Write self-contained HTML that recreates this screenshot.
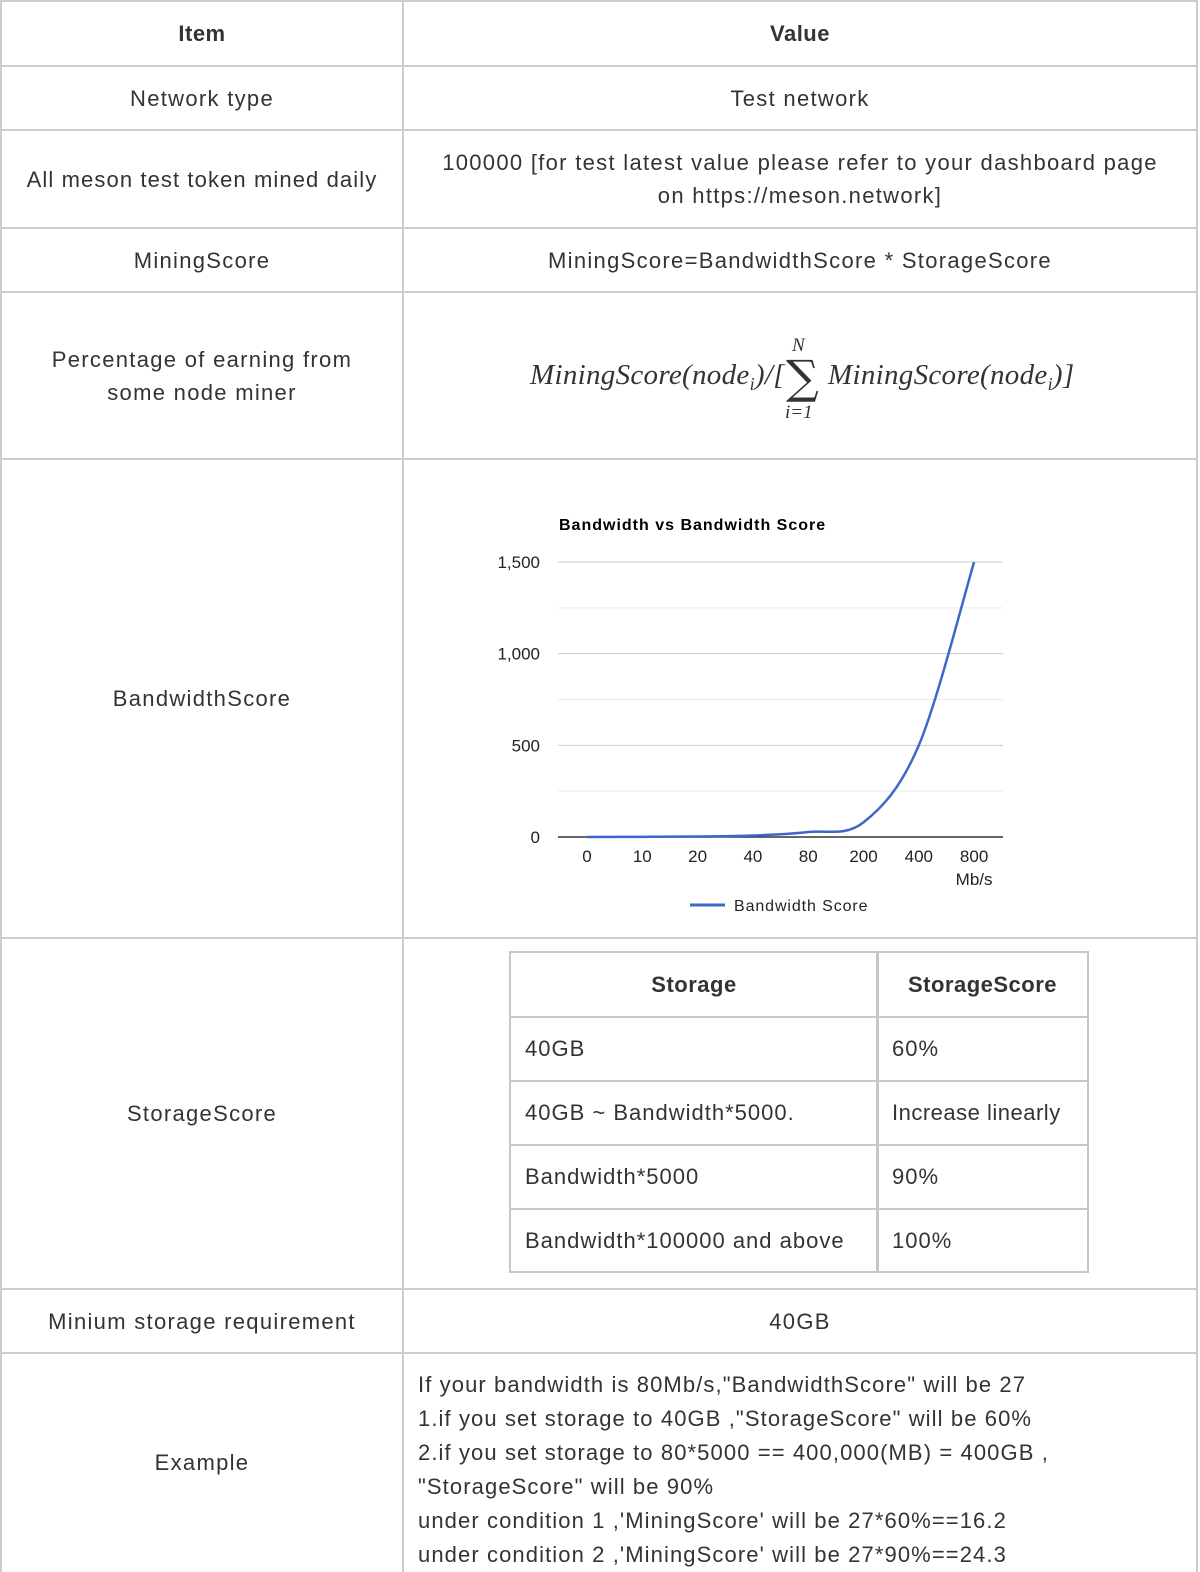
<!DOCTYPE html>
<html><head><meta charset="utf-8">
<style>
html,body{margin:0;padding:0;background:#fff;width:1200px;height:1572px;overflow:hidden;position:relative}
body{font-family:"Liberation Sans",sans-serif;color:#333;font-size:22px;letter-spacing:1.3px}
.c{position:absolute;box-sizing:border-box;border:2px solid #ccc;display:flex;align-items:center;justify-content:center;text-align:center;line-height:33px;padding:0 14px}
.hd{font-weight:bold;letter-spacing:0.5px}
.ic{position:absolute;box-sizing:border-box;border:2px solid #c8c8c8;display:flex;align-items:center;padding:0 14px;white-space:nowrap;letter-spacing:1px}
</style></head><body>
<div>
<div class="c hd" style="left:0;top:0;width:404px;height:67px">Item</div>
<div class="c hd" style="left:402px;top:0;width:796px;height:67px">Value</div>
<div class="c" style="left:0;top:65px;width:404px;height:66px">Network type</div>
<div class="c" style="left:402px;top:65px;width:796px;height:66px">Test network</div>
<div class="c" style="left:0;top:129px;width:404px;height:100px;letter-spacing:1.1px;padding:0 6px">All meson test token mined daily</div>
<div class="c" style="left:402px;top:129px;width:796px;height:100px;padding:0 30px">100000 [for test latest value please refer to your dashboard page on https://meson.network]</div>
<div class="c" style="left:0;top:227px;width:404px;height:66px">MiningScore</div>
<div class="c" style="left:402px;top:227px;width:796px;height:66px">MiningScore=BandwidthScore * StorageScore</div>
<div class="c" style="left:0;top:291px;width:404px;height:169px">Percentage of earning from<br>some node miner</div>
<div class="c" style="left:402px;top:291px;width:796px;height:169px;padding:0">
<svg width="792" height="165" style="display:block;letter-spacing:0">
<text x="126" y="91" font-family="Liberation Serif" font-style="italic" font-size="29" fill="#333" letter-spacing="0.3">MiningScore(node<tspan font-size="18" dy="6">i</tspan><tspan dy="-6">)/[</tspan></text>
<text x="382" y="100" font-family="DejaVu Serif" font-size="46" fill="#333">∑</text>
<text x="388" y="58" font-family="Liberation Serif" font-style="italic" font-size="19" fill="#333">N</text>
<text x="381" y="125" font-family="Liberation Serif" font-style="italic" font-size="19" fill="#333">i=1</text>
<text x="424" y="91" font-family="Liberation Serif" font-style="italic" font-size="29" fill="#333" letter-spacing="0.3">MiningScore(node<tspan font-size="18" dy="6">i</tspan><tspan dy="-6">)]</tspan></text>
</svg></div>
<div class="c" style="left:0;top:458px;width:404px;height:481px">BandwidthScore</div>
<div class="c" style="left:402px;top:458px;width:796px;height:481px;padding:0;display:block">
<svg id="chart" width="792" height="477" style="display:block;position:absolute;left:0;top:0;letter-spacing:0"></svg></div>
<div class="c" style="left:0;top:937px;width:404px;height:353px">StorageScore</div>
<div class="c" style="left:402px;top:937px;width:796px;height:353px"></div>
<div>
<div class="ic" style="left:509px;top:951px;width:370px;height:67px;justify-content:center;font-weight:bold;letter-spacing:0.5px">Storage</div>
<div class="ic" style="left:876px;top:951px;width:213px;height:67px;justify-content:center;font-weight:bold;letter-spacing:0.5px">StorageScore</div>
<div class="ic" style="left:509px;top:1016px;width:370px;height:66px">40GB</div>
<div class="ic" style="left:876px;top:1016px;width:213px;height:66px">60%</div>
<div class="ic" style="left:509px;top:1080px;width:370px;height:66px">40GB ~ Bandwidth*5000.</div>
<div class="ic" style="left:876px;top:1080px;width:213px;height:66px;letter-spacing:0.5px">Increase linearly</div>
<div class="ic" style="left:509px;top:1144px;width:370px;height:66px">Bandwidth*5000</div>
<div class="ic" style="left:876px;top:1144px;width:213px;height:66px">90%</div>
<div class="ic" style="left:509px;top:1208px;width:370px;height:65px">Bandwidth*100000 and above</div>
<div class="ic" style="left:876px;top:1208px;width:213px;height:65px">100%</div>
</div>
<div class="c" style="left:0;top:1288px;width:404px;height:66px">Minium storage requirement</div>
<div class="c" style="left:402px;top:1288px;width:796px;height:66px">40GB</div>
<div class="c" style="left:0;top:1352px;width:404px;height:240px;padding-bottom:20px">Example</div>
<div class="c" style="left:402px;top:1352px;width:796px;height:240px;display:block;text-align:left;padding-top:14px;line-height:34px;letter-spacing:1.1px">If your bandwidth is 80Mb/s,"BandwidthScore" will be 27<br>1.if you set storage to 40GB ,"StorageScore" will be 60%<br>2.if you set storage to 80*5000 == 400,000(MB) = 400GB ,<br>"StorageScore" will be 90%<br>under condition 1 ,'MiningScore' will be 27*60%==16.2<br>under condition 2 ,'MiningScore' will be 27*90%==24.3</div>
</div>
<script>
const categories=["0","10","20","40","80","200","400","800"];
const scores=[0,1,3,8,27,80,500,1500];
const yTicks=[0,500,1000,1500];
const yTickLabels=["0","500","1,000","1,500"];
const svg=document.getElementById('chart');
const NS='http://www.w3.org/2000/svg';
const ox=402, oy=458;
const L=556-ox,R=1001-ox,T=560-oy,B=835-oy;
const x=i=>(585-ox)+i*55.3;
const y=v=>B-(v/1500)*(B-T);
function mk(t,a,txt){const e=document.createElementNS(NS,t);for(const k in a)e.setAttribute(k,a[k]);if(txt!==undefined)e.textContent=txt;svg.appendChild(e);return e;}
let e=mk('text',{x:155,y:70,'font-size':16,'font-weight':'bold',fill:'#000','font-family':'Liberation Sans','letter-spacing':1},'Bandwidth vs Bandwidth Score');


for(let v=0;v<=1500;v+=250){const g=mk('line',{x1:L,x2:R,y1:y(v),y2:y(v),stroke:v%500?'#ebebeb':'#ccc','stroke-width':1});

}
yTicks.forEach((v,i)=>{const t=mk('text',{x:L-18,y:y(v)+6,'text-anchor':'end','font-size':17,fill:'#222','font-family':'Liberation Sans'},yTickLabels[i]);

});
e=mk('line',{x1:L,x2:R,y1:B,y2:B,stroke:'#333','stroke-width':1.5});


categories.forEach((c,i)=>{const t=mk('text',{x:x(i),y:B+25,'text-anchor':'middle','font-size':17,fill:'#222','font-family':'Liberation Sans'},c);

});
e=mk('text',{x:x(7),y:B+48,'text-anchor':'middle','font-size':17,fill:'#222','font-family':'Liberation Sans'},'Mb/s');


const P=scores.map((v,i)=>[x(i),y(v)]);
let d='M'+P[0][0]+','+P[0][1];
for(let i=0;i<P.length-1;i++){const p0=P[Math.max(0,i-1)],p1=P[i],p2=P[i+1],p3=P[Math.min(P.length-1,i+2)];const k=0.5/3;
const c1=[p1[0]+(p2[0]-p0[0])*k,Math.min(B,p1[1]+(p2[1]-p0[1])*k)],c2=[p2[0]-(p3[0]-p1[0])*k,Math.min(B,p2[1]-(p3[1]-p1[1])*k)];
d+=`C${c1[0]},${c1[1]} ${c2[0]},${c2[1]} ${p2[0]},${p2[1]}`;}
e=mk('path',{d:d,fill:'none',stroke:'#3d67c9','stroke-width':2.5});


e=mk('line',{x1:286,x2:321,y1:445,y2:445,stroke:'#3d67c9','stroke-width':3});


e=mk('text',{x:330,y:451,'font-size':16,fill:'#222','font-family':'Liberation Sans','letter-spacing':0.9},'Bandwidth Score');


</script>
</body></html>
